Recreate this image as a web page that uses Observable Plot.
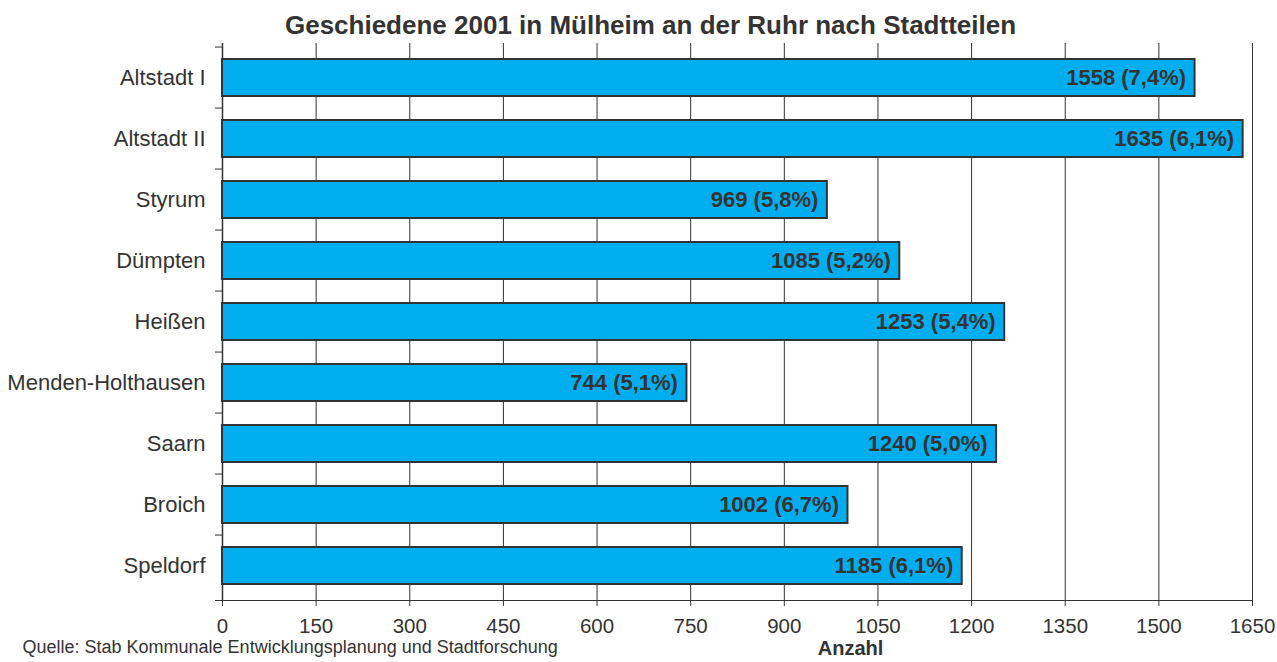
<!DOCTYPE html>
<html>
<head>
<meta charset="utf-8">
<script src="https://cdn.jsdelivr.net/npm/d3@7"></script>
<script src="https://cdn.jsdelivr.net/npm/@observablehq/plot@0.6"></script>
<style>
  html, body { margin: 0; padding: 0; background: #fff; }
  #chart { width: 1277px; height: 662px; }
</style>
</head>
<body>
<div id="chart"></div>
<script>
const districts = ["Altstadt I", "Altstadt II", "Styrum", "Dümpten", "Heißen", "Menden-Holthausen", "Saarn", "Broich", "Speldorf"];
const counts = [1558, 1635, 969, 1085, 1253, 744, 1240, 1002, 1185];
const shares = ["7,4%", "6,1%", "5,8%", "5,2%", "5,4%", "5,1%", "5,0%", "6,7%", "6,1%"];
const xTicks = [0, 150, 300, 450, 600, 750, 900, 1050, 1200, 1350, 1500, 1650];
const titleText = "Geschiedene 2001 in Mülheim an der Ruhr nach Stadtteilen";
const sourceText = "Quelle: Stab Kommunale Entwicklungsplanung und Stadtforschung";
const xLabel = "Anzahl";

const data = districts.map((d, i) => ({district: d, count: counts[i], label: `${counts[i]} (${shares[i]})`}));

const font = "'Liberation Sans', Arial, sans-serif";
const W = 1277, H = 662;
const mL = 222, mR = 25, mT = 43, mB = 62;
const step = (H - mT - mB) / districts.length;

const chart = Plot.plot({
  width: W,
  height: H,
  marginLeft: mL,
  marginRight: mR,
  marginTop: mT,
  marginBottom: mB,
  style: {fontFamily: font, fontSize: "21px", color: "#333", background: "#fff"},
  x: {domain: [0, 1650], ticks: xTicks, label: null},
  y: {domain: districts, paddingInner: 0.4, paddingOuter: 0.2, label: null},
  marks: [
    Plot.ruleX(xTicks, {stroke: "#333", strokeWidth: 1, strokeOpacity: 1}),
    Plot.ruleY(districts, {y: d => d, x1: 0, x2: 0, insetLeft: -7, dy: -step / 2, stroke: "#333"}),
    Plot.frame({anchor: "bottom", stroke: "#333", insetLeft: -7}),
    Plot.ruleX([0], {stroke: "#333", strokeWidth: 1.5}),
    Plot.barX(data, {x: "count", y: "district", fill: "#00aeef", stroke: "#333", strokeWidth: 2}),
    Plot.text(data, {x: "count", y: "district", text: "label", textAnchor: "end", dx: -9, fill: "#333", fontWeight: "bold", fontSize: 22}),
    Plot.axisX({ticks: xTicks, tickFormat: d => String(d), tickSize: 6, tickPadding: 12, stroke: "#333", fill: "#333", fontSize: 20.5, label: null}),
    Plot.axisY({tickSize: 0, tickPadding: 17, fill: "#333", fontSize: 22, label: null}),
    Plot.text([titleText], {frameAnchor: "top-left", dx: 428, dy: -28, text: d => d, textAnchor: "middle", fontWeight: "bold", fontSize: 26, fill: "#333"}),
    Plot.text([sourceText], {frameAnchor: "bottom-left", dx: 22 - mL, dy: 52, text: d => d, textAnchor: "start", fontSize: 18, fill: "#333"}),
    Plot.text([xLabel], {frameAnchor: "bottom-left", dx: 850 - mL, dy: 54, text: d => d, textAnchor: "middle", fontWeight: "bold", fontSize: 20, fill: "#333"})
  ]
});
document.getElementById("chart").appendChild(chart);
</script>
</body>
</html>
